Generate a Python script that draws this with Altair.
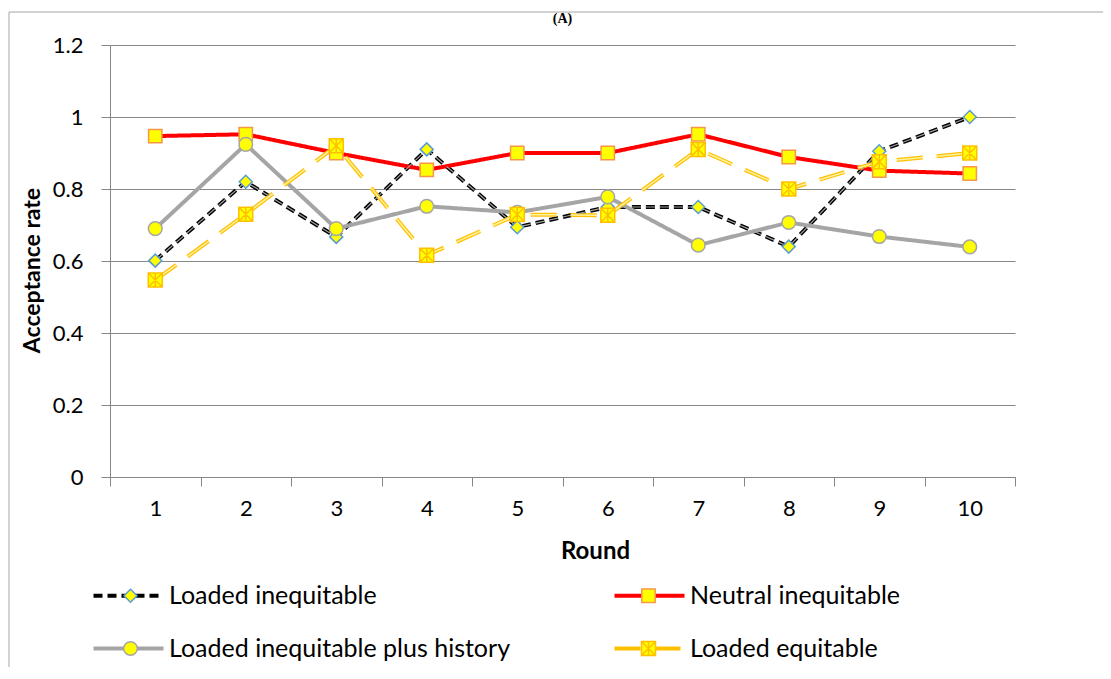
import altair as alt
import pandas as pd

rounds = [1, 2, 3, 4, 5, 6, 7, 8, 9, 10]
series_names = [
    "Loaded inequitable",
    "Neutral inequitable",
    "Loaded inequitable plus history",
    "Loaded equitable",
]
loaded_inequitable = [0.601, 0.82, 0.667, 0.91, 0.694, 0.75, 0.75, 0.64, 0.905, 1.0]
neutral_inequitable = [0.947, 0.952, 0.90, 0.853, 0.90, 0.90, 0.952, 0.889, 0.851, 0.843]
loaded_history = [0.69, 0.924, 0.69, 0.752, 0.735, 0.778, 0.644, 0.707, 0.668, 0.639]
loaded_equitable = [0.547, 0.73, 0.92, 0.616, 0.729, 0.727, 0.91, 0.80, 0.876, 0.90]

y_ticks = [0, 0.2, 0.4, 0.6, 0.8, 1.0, 1.2]

line_colors = ["#000000", "#FF0000", "#A5A5A5", "#FFC000"]
line_dashes = [[9, 5], [1, 0], [1, 0], [26, 14]]
marker_strokes = ["#5B9BD5", "#F79646", "#A5A5A5", "#FFC000"]
asterisk_box = "M-1,-1H1V1H-1Z M-1,-1L1,1 M1,-1L-1,1 M0,-1V1"
marker_shapes = ["diamond", "square", "circle", asterisk_box]
marker_sizes = [169, 196, 361, 361]
legend_line = "M-7,0H7"

# marker keys are distinct from series keys so the two legends stay separate
marker_keys = [n + " (marker)" for n in series_names]

rows = []
for name, mkey, vals in zip(series_names, marker_keys,
                            [loaded_inequitable, neutral_inequitable, loaded_history, loaded_equitable]):
    for r, v in zip(rounds, vals):
        rows.append({"series": name, "marker": mkey, "round": r, "value": v})
df = pd.DataFrame(rows)

FONT = "Lato"
GRAY = "#868686"

x_enc = alt.X(
    "round:O",
    bandPosition=0.5,
    scale=alt.Scale(type="band", paddingInner=0, paddingOuter=0),
    axis=alt.Axis(
        title="Round",
        labelAngle=0,
        tickBand="extent",
        tickSize=9,
        tickColor=GRAY,
        domainColor=GRAY,
        labelPadding=12,
        titleX=485,
        titleY=81,
        titleBaseline="alphabetic",
        titleFontSize=24,
    ),
)
y_enc = alt.Y(
    "value:Q",
    scale=alt.Scale(domain=[0, 1.2], nice=False, zero=True),
    axis=alt.Axis(
        title="Acceptance rate",
        values=y_ticks,
        format=".1~f",
        tickSize=9,
        tickColor=GRAY,
        domainColor=GRAY,
        gridColor=GRAY,
        labelPadding=18,
        titleX=-66,
        titleY=225,
        titleFontSize=23,
    ),
)

legend_a = alt.Legend(
    title=None,
    orient="none",
    direction="horizontal",
    legendX=6,
    legendY=538,
    columns=2,
    columnPadding=95,
    rowPadding=27,
    padding=0,
    symbolType=legend_line,
    symbolSize=100,
    symbolStrokeWidth=4,
    labelFont=FONT,
    labelFontSize=25,
    labelColor="#000000",
    labelOffset=28,
    labelLimit=600,
)
legend_b = alt.Legend(
    title=None,
    orient="none",
    direction="horizontal",
    legendX=8,
    legendY=538,
    columns=2,
    columnPadding=493,
    rowPadding=27,
    padding=0,
    symbolStrokeWidth=1.5,
    symbolFillColor="#FFFF00",
    symbolOpacity=1,
    labelExpr="''",
    labelFontSize=25,
    labelOffset=0,
)

base = alt.Chart(df)

frame = alt.Chart(pd.DataFrame({"k": [0]})).mark_rect(
    fill="transparent", stroke="#A6A6A6", strokeWidth=1
).encode(
    x=alt.value(-101), x2=alt.value(1100), y=alt.value(-33), y2=alt.value(700)
)

lines = base.mark_line(strokeWidth=4).encode(
    x=x_enc,
    y=y_enc,
    stroke=alt.Stroke("series:N", scale=alt.Scale(domain=series_names, range=line_colors), legend=legend_a),
    strokeDash=alt.StrokeDash("series:N", scale=alt.Scale(domain=series_names, range=line_dashes), legend=legend_a),
)

inner_li = base.transform_filter(alt.datum.series == "Loaded inequitable").mark_line(
    strokeWidth=1.2, strokeDash=[9, 5], color="#A0A0A0"
).encode(x=x_enc, y=y_enc)

inner_le = base.transform_filter(alt.datum.series == "Loaded equitable").mark_line(
    strokeWidth=1.5, strokeDash=[26, 14], color="#FFF3A0"
).encode(x=x_enc, y=y_enc)

points = base.mark_point(filled=False, opacity=1, strokeWidth=1.5).encode(
    x=x_enc,
    y=y_enc,
    fill=alt.value("#FFFF00"),
    color=alt.Color("marker:N", scale=alt.Scale(domain=marker_keys, range=marker_strokes), legend=legend_b),
    shape=alt.Shape("marker:N", scale=alt.Scale(domain=marker_keys, range=marker_shapes), legend=legend_b),
    size=alt.Size("marker:N", scale=alt.Scale(domain=marker_keys, range=marker_sizes), legend=legend_b),
)

chart = (
    alt.layer(frame, lines, inner_li, inner_le, points)
    .properties(
        width=905,
        height=432,
        padding={"left": 102, "top": 37, "right": 88, "bottom": 190},
        autosize=alt.AutoSizeParams(type="none"),
        title=alt.TitleParams("(A)", font="Liberation Serif", fontSize=14, offset=-14, frame="group",
                              anchor="middle", color="#000000"),
    )
    .configure_view(stroke=None)
    .configure_axis(
        labelFont=FONT,
        labelFontSize=22,
        labelColor="#000000",
        titleFont=FONT,
        titleFontWeight="bold",
        titleColor="#000000",
        domainWidth=1,
        gridWidth=1,
    )
    .configure_axisX(grid=False)
)

chart.save("out.html", embed_options={"renderer": "svg", "actions": False})
